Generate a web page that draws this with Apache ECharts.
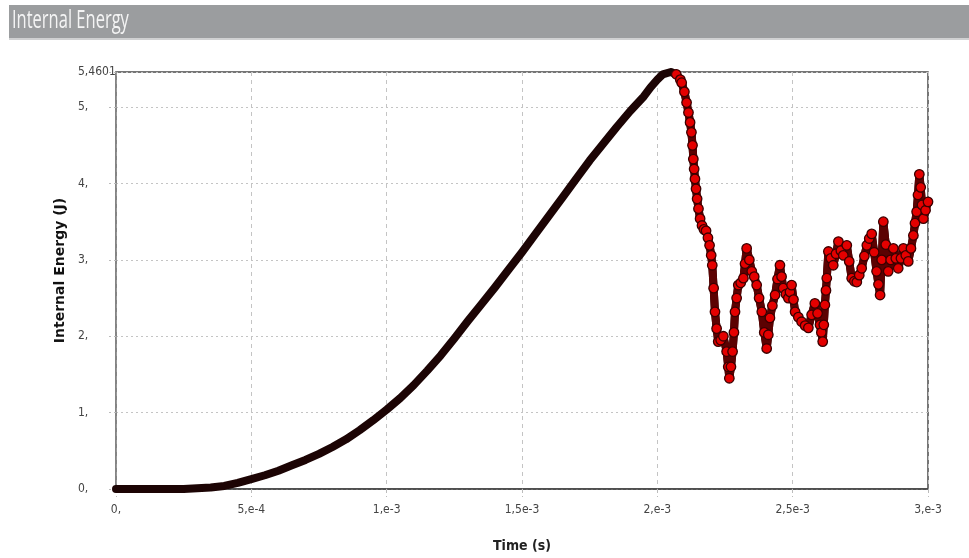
<!DOCTYPE html>
<html>
<head>
<meta charset="utf-8">
<script src="https://cdn.jsdelivr.net/npm/echarts@6/dist/echarts.min.js"></script>
<style>
  html, body { margin: 0; padding: 0; background: #ffffff; }
  #chart { width: 969px; height: 558px; }
</style>
</head>
<body>
<div id="chart"></div>
<script>
// Internal energy history (J) against simulation time (s)
const timeS = [
  0, 0.05e-3, 0.10e-3, 0.15e-3, 0.20e-3, 0.25e-3, 0.30e-3, 0.35e-3, 0.40e-3, 0.45e-3,
  0.50e-3, 0.55e-3, 0.60e-3, 0.65e-3, 0.70e-3, 0.75e-3, 0.80e-3, 0.85e-3, 0.90e-3, 0.95e-3,
  1.00e-3, 1.05e-3, 1.10e-3, 1.15e-3, 1.20e-3, 1.25e-3, 1.30e-3, 1.35e-3, 1.40e-3, 1.45e-3,
  1.50e-3, 1.55e-3, 1.60e-3, 1.65e-3, 1.70e-3, 1.75e-3, 1.80e-3, 1.85e-3, 1.90e-3, 1.95e-3,
  1.975e-3, 2.00e-3, 2.02e-3, 2.05e-3, 2.07e-3, 2.085e-3, 2.09e-3, 2.10e-3, 2.108e-3, 2.115e-3,
  2.121e-3, 2.126e-3, 2.130e-3, 2.133e-3, 2.136e-3, 2.139e-3, 2.143e-3, 2.147e-3, 2.152e-3, 2.158e-3,
  2.165e-3, 2.172e-3, 2.180e-3, 2.187e-3, 2.193e-3, 2.199e-3, 2.203e-3, 2.208e-3, 2.213e-3, 2.219e-3,
  2.225e-3, 2.234e-3, 2.244e-3, 2.256e-3, 2.262e-3, 2.266e-3, 2.272e-3, 2.278e-3, 2.283e-3, 2.287e-3,
  2.293e-3, 2.299e-3, 2.308e-3, 2.318e-3, 2.324e-3, 2.330e-3, 2.340e-3, 2.349e-3, 2.358e-3, 2.367e-3,
  2.376e-3, 2.386e-3, 2.395e-3, 2.404e-3, 2.410e-3, 2.416e-3, 2.425e-3, 2.435e-3, 2.444e-3, 2.453e-3,
  2.459e-3, 2.465e-3, 2.475e-3, 2.484e-3, 2.490e-3, 2.496e-3, 2.503e-3, 2.509e-3, 2.521e-3, 2.533e-3,
  2.546e-3, 2.558e-3, 2.570e-3, 2.582e-3, 2.592e-3, 2.601e-3, 2.606e-3, 2.611e-3, 2.615e-3, 2.619e-3,
  2.623e-3, 2.626e-3, 2.632e-3, 2.641e-3, 2.650e-3, 2.660e-3, 2.669e-3, 2.678e-3, 2.687e-3, 2.700e-3,
  2.709e-3, 2.718e-3, 2.728e-3, 2.737e-3, 2.746e-3, 2.755e-3, 2.765e-3, 2.774e-3, 2.783e-3, 2.792e-3,
  2.801e-3, 2.810e-3, 2.817e-3, 2.823e-3, 2.829e-3, 2.835e-3, 2.844e-3, 2.853e-3, 2.862e-3, 2.872e-3,
  2.881e-3, 2.890e-3, 2.900e-3, 2.909e-3, 2.918e-3, 2.927e-3, 2.937e-3, 2.946e-3, 2.952e-3, 2.958e-3,
  2.963e-3, 2.968e-3, 2.973e-3, 2.978e-3, 2.983e-3, 2.991e-3, 3.000e-3
];

const energyJ = [
  0.00, 0.00, 0.00, 0.00, 0.00, 0.00, 0.01, 0.02, 0.04, 0.08,
  0.13, 0.18, 0.24, 0.31, 0.38, 0.46, 0.55, 0.65, 0.77, 0.90,
  1.04, 1.19, 1.36, 1.55, 1.75, 1.97, 2.20, 2.42, 2.64, 2.87,
  3.10, 3.34, 3.58, 3.82, 4.06, 4.30, 4.52, 4.74, 4.95, 5.14,
  5.26, 5.36, 5.43, 5.4601, 5.43, 5.36, 5.32, 5.20, 5.06, 4.93,
  4.80, 4.67, 4.50, 4.32, 4.19, 4.06, 3.93, 3.80, 3.67, 3.54,
  3.45, 3.40, 3.38, 3.29, 3.19, 3.06, 2.93, 2.63, 2.32, 2.10,
  1.93, 1.95, 2.00, 1.80, 1.60, 1.45, 1.60, 1.80, 2.05, 2.32,
  2.50, 2.67, 2.70, 2.76, 2.95, 3.15, 3.00, 2.85, 2.78, 2.67,
  2.50, 2.32, 2.05, 1.84, 2.02, 2.24, 2.40, 2.54, 2.75, 2.93,
  2.78, 2.63, 2.55, 2.50, 2.58, 2.67, 2.48, 2.32, 2.25, 2.19,
  2.14, 2.11, 2.28, 2.43, 2.30, 2.15, 2.05, 1.93, 2.15, 2.41,
  2.60, 2.76, 3.11, 3.02, 2.93, 3.08, 3.24, 3.12, 3.06, 3.19,
  2.98, 2.76, 2.72, 2.71, 2.80, 2.89, 3.05, 3.19, 3.28, 3.34,
  3.10, 2.85, 2.68, 2.54, 3.00, 3.50, 3.20, 2.85, 3.00, 3.15,
  3.02, 2.89, 3.02, 3.15, 3.06, 2.98, 3.15, 3.32, 3.48, 3.63,
  3.85, 4.12, 3.95, 3.72, 3.54, 3.65, 3.76
];

// Axis tick labels as printed by the solver's plot window
const xTickLabels = ['0,', '5,e-4', '1,e-3', '1,5e-3', '2,e-3', '2,5e-3', '3,e-3'];
const yTickLabels = ['0,', '1,', '2,', '3,', '4,', '5,', '5,4601'];

const xStep = 5e-4;
const yMax = 5.4601;
const markerStart = 2.07e-3;

const points = timeS.map((t, i) => [t, energyJ[i]]);
// after the peak the samples are drawn as individual markers on a reddish trace
const tailPoints = points.filter(p => p[0] >= markerStart);

const labelFont = "'Liberation Sans Narrow', 'DejaVu Sans Condensed', 'Roboto Condensed', 'Open Sans', sans-serif";

const chart = echarts.init(document.getElementById('chart'), null, { renderer: 'canvas' });

chart.setOption({
  animation: false,
  backgroundColor: '#ffffff',
  graphic: [
    { type: 'rect', left: 9, top: 5, shape: { width: 960, height: 33 }, style: { fill: '#9b9d9f' }, z: 0 },
    { type: 'rect', left: 9, top: 38, shape: { width: 960, height: 2 }, style: { fill: '#d0d1d2' }, z: 0 },
    {
      type: 'text', x: 12, y: 21, scaleX: 0.66, z: 1,
      style: {
        text: 'Internal Energy', fill: '#f4f4f4',
        font: "25px 'Open Sans', 'Liberation Sans', sans-serif",
        verticalAlign: 'middle', align: 'left'
      }
    }
  ],
  grid: {
    left: 116, right: 41, top: 72, bottom: 66,
    show: true, borderColor: '#4a4a4a', borderWidth: 1.5, backgroundColor: '#ffffff'
  },
  xAxis: {
    type: 'value', min: 0, max: 3e-3, interval: xStep,
    name: 'Time (s)', nameLocation: 'middle', nameGap: 50,
    nameTextStyle: { fontFamily: labelFont, fontWeight: 'bold', fontSize: 14, color: '#222' },
    axisLine: { show: true, onZero: false, lineStyle: { color: '#444', width: 1.5 } },
    axisTick: { show: true, length: 8, lineStyle: { color: '#bbb', type: [4, 3] } },
    splitLine: { show: true, lineStyle: { color: '#c4c4c4', type: [4, 4], width: 1 } },
    axisLabel: {
      margin: 15, fontFamily: labelFont, fontSize: 12, color: '#444',
      showMinLabel: true, showMaxLabel: true, hideOverlap: false,
      formatter: v => xTickLabels[Math.round(v / xStep)] ?? ''
    }
  },
  yAxis: {
    type: 'value', min: 0, max: yMax, interval: 1,
    name: 'Internal Energy (J)', nameLocation: 'middle', nameGap: 44, nameRotate: 90,
    nameTextStyle: {
      fontFamily: "'DejaVu Sans', Verdana, sans-serif", fontWeight: 'bold', fontSize: 14, color: '#111',
      padding: [0, 0, 0, 20]
    },
    axisLine: { show: true, lineStyle: { color: '#8a8a8a', width: 1.5 } },
    axisTick: { show: true, length: 7, lineStyle: { color: '#bbb', type: [2, 3] } },
    splitLine: { show: true, lineStyle: { color: '#c4c4c4', type: [2, 3], width: 1 } },
    axisLabel: {
      margin: 38, align: 'left', fontFamily: labelFont, fontSize: 12, color: '#444',
      showMinLabel: true, showMaxLabel: true, hideOverlap: false,
      formatter: v => (Math.abs(v - yMax) < 1e-9 ? yTickLabels[yTickLabels.length - 1] : (yTickLabels[Math.round(v)] ?? ''))
    }
  },
  series: [
    {
      name: 'Internal Energy',
      type: 'line',
      data: points,
      showSymbol: false,
      symbol: 'none',
      lineStyle: { color: '#1c0404', width: 8, cap: 'round', join: 'round' },
      z: 3
    },
    {
      name: 'Internal Energy (post-peak trace)',
      type: 'line',
      data: tailPoints,
      showSymbol: false,
      symbol: 'none',
      lineStyle: { color: '#5c0202', width: 8, cap: 'round', join: 'round' },
      z: 4
    },
    {
      name: 'Internal Energy markers',
      type: 'scatter',
      data: tailPoints,
      symbol: 'circle',
      symbolSize: 9.5,
      itemStyle: { color: '#e40000', borderColor: '#3a0000', borderWidth: 1.3, opacity: 1 },
      z: 5
    }
  ]
});
</script>
</body>
</html>
